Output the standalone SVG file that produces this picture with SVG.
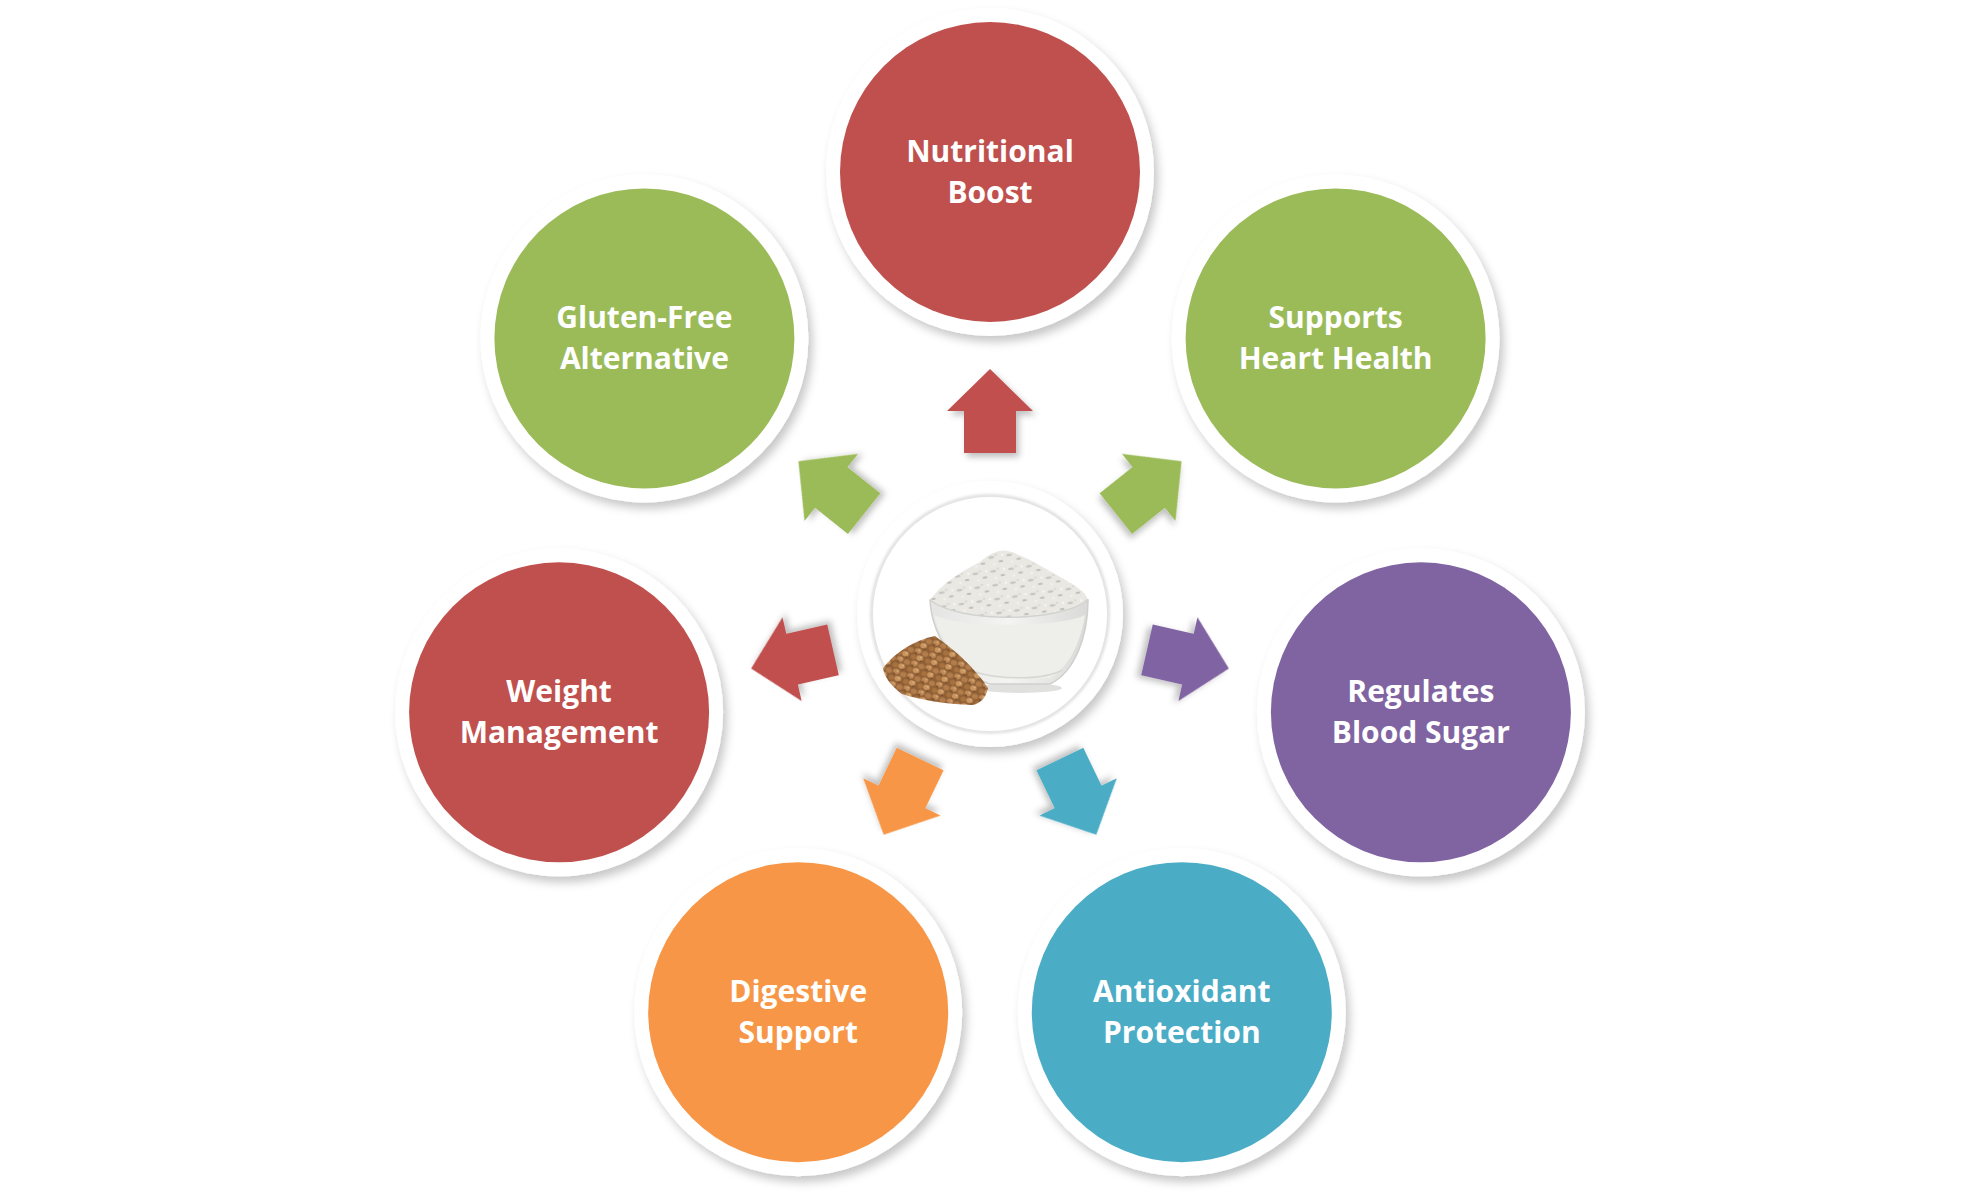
<svg xmlns="http://www.w3.org/2000/svg" width="1980" height="1197" viewBox="0 0 1980 1197">
<defs>
<style>
.ring{fill:#ffffff;filter:url(#sh)}
.lbl{font-family:"Open Sans","Liberation Sans",sans-serif;font-weight:700;font-size:30px;fill:#ffffff;text-anchor:middle}
.red{fill:#C0504D}.green{fill:#9BBB59}.purple{fill:#8064A2}.teal{fill:#4BACC6}.orange{fill:#F79646}
</style>
<filter id="sh" x="-20%" y="-20%" width="140%" height="140%">
<feDropShadow dx="4" dy="6" stdDeviation="5" flood-color="#000" flood-opacity="0.22"/>
</filter>
<filter id="ash" x="-30%" y="-30%" width="160%" height="160%">
<feDropShadow dx="3" dy="4" stdDeviation="3" flood-color="#000" flood-opacity="0.25"/>
</filter>
<filter id="blur1"><feGaussianBlur stdDeviation="1.5"/></filter>
<path id="arr" d="M0,-245 L43,-203 L26,-203 L26,-161 L-26,-161 L-26,-203 L-43,-203 Z"/>
<pattern id="seeds" width="15" height="13" patternUnits="userSpaceOnUse" patternTransform="rotate(17)">
<rect width="15" height="13" fill="#8f5f36"/>
<ellipse cx="3.5" cy="3" rx="3.4" ry="2.8" fill="#c08a57"/>
<ellipse cx="11" cy="4" rx="3.2" ry="2.7" fill="#b27c4b"/>
<ellipse cx="7" cy="9.5" rx="3.4" ry="2.8" fill="#c9955f"/>
<ellipse cx="0.5" cy="10" rx="2.8" ry="2.5" fill="#a8723f"/>
<ellipse cx="15.5" cy="10" rx="2.8" ry="2.5" fill="#a8723f"/>
<circle cx="4.5" cy="2" r="1" fill="#dcae7c"/>
<circle cx="8" cy="8.5" r="1" fill="#e0b283"/>
<circle cx="2" cy="5.5" r="0.9" fill="#6e4526"/>
<circle cx="9" cy="12.3" r="0.9" fill="#6e4526"/>
</pattern>
<pattern id="flour" width="18" height="14" patternUnits="userSpaceOnUse" patternTransform="rotate(-8)">
<rect width="18" height="14" fill="#e9e8e3"/>
<ellipse cx="4" cy="4" rx="3" ry="1.2" fill="#c8c6c0"/>
<ellipse cx="13" cy="9" rx="2.5" ry="1" fill="#bdbbb4"/>
<ellipse cx="9" cy="2" rx="1.5" ry="0.8" fill="#d3d1cb"/>
<circle cx="6" cy="11" r="1" fill="#f7f7f5"/>
<circle cx="15" cy="3" r="1.2" fill="#f7f7f5"/>
</pattern>
<linearGradient id="bowlg" x1="0" y1="0" x2="1" y2="0">
<stop offset="0" stop-color="#e4e4e2"/>
<stop offset="0.5" stop-color="#f4f4f2"/>
<stop offset="1" stop-color="#d9d9d7"/>
</linearGradient>
</defs>
<rect width="1980" height="1197" fill="#ffffff"/>

<g id="connectors">
<use href="#arr" class="red" filter="url(#ash)" transform="translate(990 614) rotate(0)"/>
<use href="#arr" class="green" filter="url(#ash)" transform="translate(990 614) rotate(51.4286)"/>
<use href="#arr" class="purple" filter="url(#ash)" transform="translate(990 614) rotate(102.857)"/>
<use href="#arr" class="teal" filter="url(#ash)" transform="translate(990 614) rotate(154.286)"/>
<use href="#arr" class="orange" filter="url(#ash)" transform="translate(990 614) rotate(205.714)"/>
<use href="#arr" class="red" filter="url(#ash)" transform="translate(990 614) rotate(257.143)"/>
<use href="#arr" class="green" filter="url(#ash)" transform="translate(990 614) rotate(308.571)"/>
</g>

<g id="center">
<circle class="ring" cx="990" cy="614" r="133"/>
<circle cx="990" cy="614" r="118" fill="none" stroke="#d8d8d8" stroke-width="3" filter="url(#blur1)"/>
<circle cx="990" cy="614" r="117" fill="#ffffff"/>
<!-- bowl -->
<ellipse cx="1020" cy="688" rx="42" ry="5" fill="#e0e0de"/>
<path d="M930,600 C932,640 962,676 990,684 L1050,684 C1075,672 1088,636 1088,600 Z" fill="url(#bowlg)" stroke="#cfcfcc" stroke-width="1.5"/>
<path d="M934,615 C960,628 1060,628 1085,615 C1080,645 1068,668 1050,678 L990,678 C965,668 940,645 934,615 Z" fill="#eeeeeb"/>
<path d="M930,600 C940,585 960,572 980,562 C990,553 1000,549 1008,551 C1025,556 1045,568 1062,578 C1075,585 1086,592 1088,600 C1060,622 960,624 930,600 Z" fill="url(#flour)"/>
<path d="M930,600 C960,624 1060,622 1088,600" fill="none" stroke="#d2d2cf" stroke-width="1.5"/>
<path d="M975,672 C1000,680 1045,680 1062,670" fill="none" stroke="#d6d6d3" stroke-width="1.5"/>
<!-- seeds -->
<path d="M883,668 C895,652 915,640 935,636 C955,650 975,668 988,688 C986,698 980,704 972,705 C945,704 920,700 902,694 C890,685 884,676 883,668 Z" fill="url(#seeds)"/>
</g>

<g id="node-nutritional">
<circle class="ring" cx="990" cy="172" r="164"/>
<circle class="red" cx="990" cy="172" r="150"/>
<text class="lbl" x="990" y="162">Nutritional</text>
<text class="lbl" x="990" y="203">Boost</text>
</g>
<g id="node-heart">
<circle class="ring" cx="1335.6" cy="338.4" r="164"/>
<circle class="green" cx="1335.6" cy="338.4" r="150"/>
<text class="lbl" x="1335.6" y="328.4">Supports</text>
<text class="lbl" x="1335.6" y="369.4">Heart Health</text>
</g>
<g id="node-blood">
<circle class="ring" cx="1420.9" cy="712.3" r="164"/>
<circle class="purple" cx="1420.9" cy="712.3" r="150"/>
<text class="lbl" x="1420.9" y="702.3">Regulates</text>
<text class="lbl" x="1420.9" y="743.3">Blood Sugar</text>
</g>
<g id="node-antioxidant">
<circle class="ring" cx="1181.8" cy="1012.2" r="164"/>
<circle class="teal" cx="1181.8" cy="1012.2" r="150"/>
<text class="lbl" x="1181.8" y="1002.2">Antioxidant</text>
<text class="lbl" x="1181.8" y="1043.2">Protection</text>
</g>
<g id="node-digestive">
<circle class="ring" cx="798.2" cy="1012.2" r="164"/>
<circle class="orange" cx="798.2" cy="1012.2" r="150"/>
<text class="lbl" x="798.2" y="1002.2">Digestive</text>
<text class="lbl" x="798.2" y="1043.2">Support</text>
</g>
<g id="node-weight">
<circle class="ring" cx="559.1" cy="712.3" r="164"/>
<circle class="red" cx="559.1" cy="712.3" r="150"/>
<text class="lbl" x="559.1" y="702.3">Weight</text>
<text class="lbl" x="559.1" y="743.3">Management</text>
</g>
<g id="node-gluten">
<circle class="ring" cx="644.4" cy="338.4" r="164"/>
<circle class="green" cx="644.4" cy="338.4" r="150"/>
<text class="lbl" x="644.4" y="328.4">Gluten-Free</text>
<text class="lbl" x="644.4" y="369.4">Alternative</text>
</g>
</svg>
